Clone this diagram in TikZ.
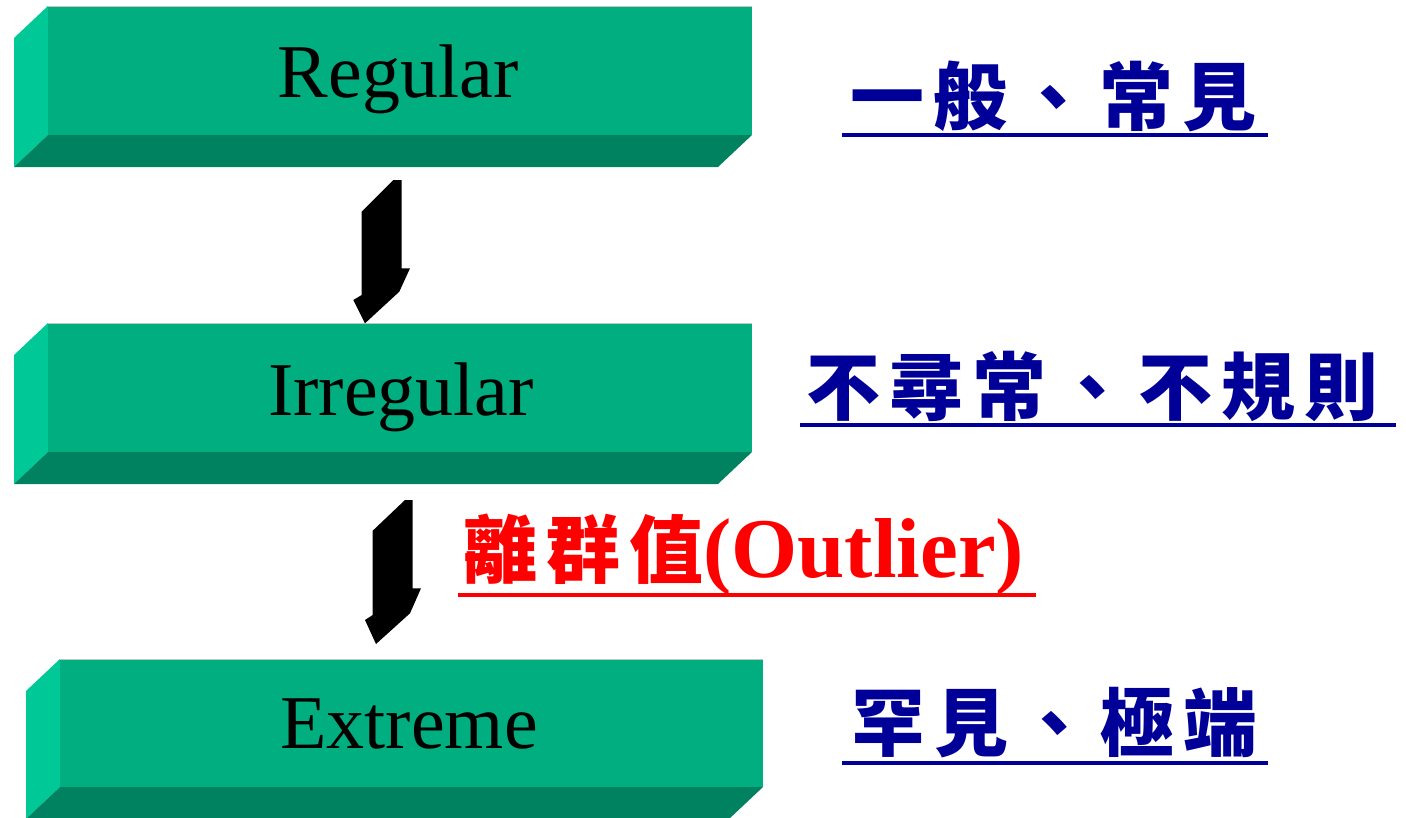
\documentclass[tikz,border=0pt]{standalone}
\usepackage{fontspec}
\setmainfont{Liberation Serif}
\newfontfamily\cjk{Noto Sans CJK TC}[LetterSpace=12.2]
\definecolor{frontc}{RGB}{0,174,128}
\definecolor{sidec}{RGB}{0,200,150}
\definecolor{botc}{RGB}{0,130,96}
\definecolor{navy}{RGB}{0,0,153}
\definecolor{redc}{RGB}{255,0,0}
\newcommand{\slab}[5]{%
  \fill[sidec] (#2,#4) -- (#2-34,#4+32) -- (#2-34,#5+32) -- (#2,#5) -- cycle;
  \fill[botc] (#2,#5) -- (#3,#5) -- (#3-34,#5+32) -- (#2-34,#5+32) -- cycle;
  \node[frontface, minimum width={#3-#2}, minimum height={#5-#4}] (#1) at ({(#2+#3)/2},{(#4+#5)/2}) {};
  \draw[gray!45, line width=1] (#2,#4) -- (#3,#4);
}
\begin{document}
\begin{tikzpicture}[x=1pt,y=-1pt,
  frontface/.style={fill=frontc, draw=none, inner sep=0, outer sep=0},
  lbl/.style={inner sep=0, anchor=base, font=\fontsize{76}{80}\selectfont},
  zh/.style={inner sep=0, anchor=base west, text=navy, font=\fontsize{74}{80}\selectfont\cjk\bfseries},
  uline/.style={line width=4},
  blockarrow/.style={fill=black}]
\useasboundingbox (0,0) rectangle (1406,817);
\fill[white] (0,0) rectangle (1406,817);

\slab{b1}{48}{752}{6}{135}
\slab{b2}{48}{752}{323}{452}
\slab{b3}{60}{763}{659}{787}

\node[lbl] (t1) at (398,97) {Regular};
\node[lbl] (t2) at (401,415) {Irregular};
\node[lbl] (t3) at (409,748) {Extreme};

% block arrows
\fill[blockarrow] (393.3,180) -- (401.7,180) -- (401.7,268.3) -- (410,268.3) -- (399.3,291.7) -- (365,323.3) -- (353.3,300) -- (361.7,295) -- (361.7,211.7) -- cycle;
\fill[blockarrow] (405,500) -- (412.7,500) -- (412.7,588.3) -- (421,588.3) -- (410,613.3) -- (376,644) -- (365,620) -- (372.7,615) -- (372.7,530.7) -- cycle;

% right-hand labels
\node[zh] (c1) at (850,124) {一般、常見};
\draw[uline, navy] (842,135) -- (1268,135);
\node[zh] (c2) at (806,414) {不尋常、不規則};
\draw[uline, navy] (800,425) -- (1396,425);
\node[zh] (c3) at (851,750) {罕見、極端};
\draw[uline, navy] (842,763) -- (1268,763);

\node[inner sep=0, anchor=base west, text=redc] (o) at (463,577)
  {{\fontsize{74}{80}\selectfont\cjk\bfseries 離群值}{\fontsize{85}{90}\selectfont\bfseries (Outlier)}};
\draw[uline, redc] (458,595) -- (1036,595);
\end{tikzpicture}
\end{document}
